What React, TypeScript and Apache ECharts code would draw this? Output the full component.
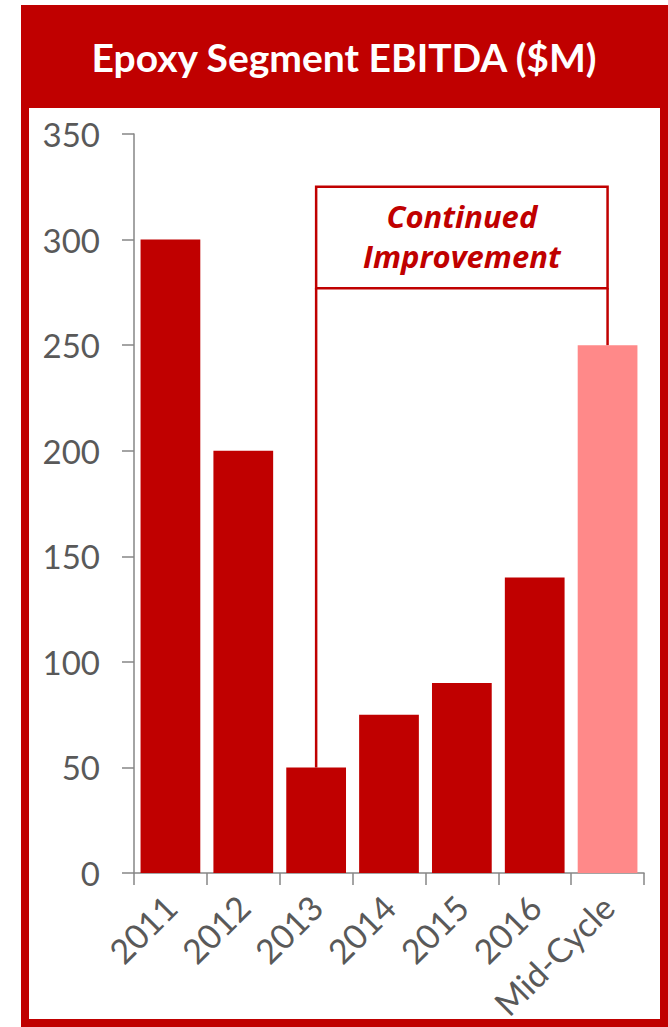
import React, { useEffect, useRef } from "react";
import * as echarts from "echarts";

// Chart data
const categories = ["2011", "2012", "2013", "2014", "2015", "2016", "Mid-Cycle"];
const ebitda = [300, 200, 50, 75, 90, 140, 250];
const projectedCategories = ["Mid-Cycle"];

// Value axis range
const yMin = 0;
const yMax = 350;
const yInterval = 50;

// Texts
const titleText = "Epoxy Segment EBITDA ($M)";
const calloutLines = ["Continued", "Improvement"];

// Callout spans from this category to that one, box placed between these values
const calloutFrom = "2013";
const calloutTo = "Mid-Cycle";
const calloutTopValue = 325;
const calloutBottomValue = 277;

const RED = "#C00000";
const PINK = "#FF8989";
const AXIS_GREY = "#868686";
const LABEL_GREY = "#595959";
const FONT = "Lato, 'Open Sans', sans-serif";
const CALLOUT_FONT = "'Open Sans', Lato, sans-serif";

export default function App() {
  const ref = useRef<HTMLDivElement>(null);

  useEffect(() => {
    if (!ref.current) return;
    const chart = echarts.init(ref.current, undefined, { renderer: "svg" });

    const option: any = {
      animation: false,
      backgroundColor: "#ffffff",
      grid: { left: 134, right: 24, top: 134, bottom: 154, containLabel: false },
      xAxis: {
        type: "category",
        data: categories,
        axisLine: { show: true, lineStyle: { color: AXIS_GREY, width: 1.5 } },
        axisTick: { show: true, length: 12, lineStyle: { color: AXIS_GREY, width: 1.5 } },
        axisLabel: {
          interval: 0,
          rotate: 45,
          fontSize: 34,
          color: LABEL_GREY,
          fontFamily: FONT,
          margin: 28,
        },
        splitLine: { show: false },
      },
      yAxis: {
        type: "value",
        min: yMin,
        max: yMax,
        interval: yInterval,
        axisLine: { show: true, lineStyle: { color: AXIS_GREY, width: 1.5 } },
        axisTick: { show: true, length: 12, lineStyle: { color: AXIS_GREY, width: 1.5 } },
        axisLabel: { fontSize: 33, color: LABEL_GREY, fontFamily: FONT, margin: 34 },
        splitLine: { show: false },
      },
      series: [
        {
          type: "bar",
          barCategoryGap: "18%",
          data: ebitda.map((v, i) => ({
            value: v,
            itemStyle: { color: projectedCategories.includes(categories[i]) ? PINK : RED },
          })),
        },
      ],
    };

    chart.setOption(option);

    const toPx = (cat: string, v: number) =>
      chart.convertToPixel({ xAxisIndex: 0, yAxisIndex: 0 }, [cat, v]) as number[];

    const fromIdx = categories.indexOf(calloutFrom);
    const toIdx = categories.indexOf(calloutTo);
    const [xL, yTop] = toPx(calloutFrom, calloutTopValue);
    const [xR, yBottom] = toPx(calloutTo, calloutBottomValue);
    const [, yBarL] = toPx(calloutFrom, ebitda[fromIdx]);
    const [, yBarR] = toPx(calloutTo, ebitda[toIdx]);
    const midX = (xL + xR) / 2;
    const boxH = yBottom - yTop;

    const lineStyle = { stroke: RED, lineWidth: 2.5 };

    chart.setOption({
      graphic: [
        // header band
        {
          type: "rect",
          shape: { x: 21, y: 5, width: 647, height: 103 },
          style: { fill: RED },
          z: 10,
        },
        // outer frame
        {
          type: "rect",
          shape: { x: 25, y: 9, width: 639, height: 1014 },
          style: { fill: "none", stroke: RED, lineWidth: 8 },
          z: 10,
        },
        {
          type: "text",
          x: 344,
          y: 57,
          style: {
            text: titleText,
            fill: "#ffffff",
            font: `bold 39px ${FONT}`,
            textAlign: "center",
            textVerticalAlign: "middle",
          },
          z: 11,
        },
        // callout box
        {
          type: "rect",
          shape: { x: xL, y: yTop, width: xR - xL, height: boxH },
          style: { fill: "#ffffff", ...lineStyle },
          z: 10,
        },
        {
          type: "line",
          shape: { x1: xL, y1: yBottom, x2: xL, y2: yBarL },
          style: lineStyle,
          z: 10,
        },
        {
          type: "line",
          shape: { x1: xR, y1: yBottom, x2: xR, y2: yBarR },
          style: lineStyle,
          z: 10,
        },
        {
          type: "text",
          x: midX,
          y: yTop + boxH * 0.49,
          style: {
            text: calloutLines.join("\n"),
            fill: RED,
            fontFamily: CALLOUT_FONT,
            fontSize: 31,
            fontStyle: "italic",
            fontWeight: "bold",
            lineHeight: 40,
            align: "center",
            verticalAlign: "middle",
          },
          z: 11,
        },
      ],
    });

    return () => chart.dispose();
  }, []);

  return (
    <div
      ref={ref}
      style={{ position: "absolute", left: 0, top: 0, width: 668, height: 1027, background: "#fff" }}
    />
  );
}
